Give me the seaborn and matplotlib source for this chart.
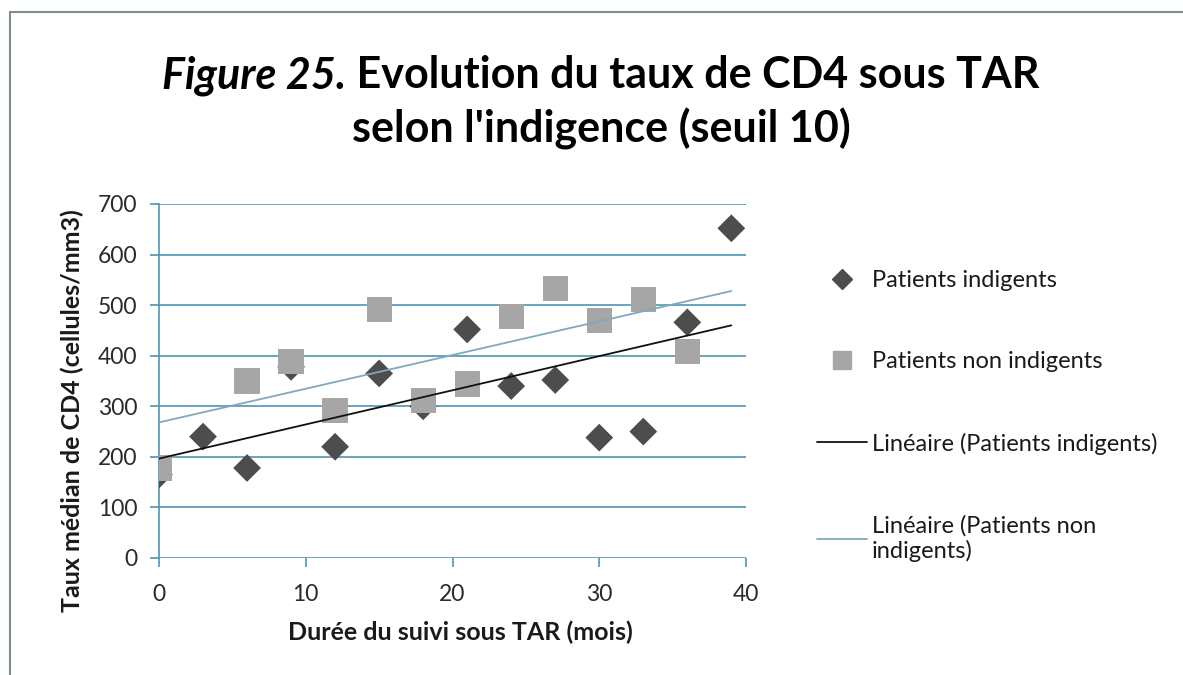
import numpy as np
import pandas as pd
import matplotlib
matplotlib.use("Agg")
import matplotlib.pyplot as plt
from matplotlib.lines import Line2D
import seaborn as sns

# ---- data ----
months_ind = [0, 3, 6, 9, 12, 15, 18, 21, 24, 27, 30, 33, 36, 39]
cd4_ind = [165, 240, 178, 378, 220, 365, 300, 452, 340, 352, 238, 250, 466, 652]
months_non = [0, 6, 9, 12, 15, 18, 21, 24, 27, 30, 33, 36]
cd4_non = [178, 350, 388, 292, 492, 312, 344, 477, 533, 470, 511, 409]
series_labels = ["Patients indigents", "Patients non indigents"]
trend_labels = ["Linéaire (Patients indigents)", "Linéaire (Patients non\nindigents)"]
title_italic = "Figure 25."
title_line1 = " Evolution du taux de CD4 sous TAR"
title_line2 = "selon l'indigence (seuil 10)"
xlabel = "Durée du suivi sous TAR (mois)"
ylabel = "Taux médian de CD4 (cellules/mm3)"
xticks = [0, 10, 20, 30, 40]
yticks = [0, 100, 200, 300, 400, 500, 600, 700]

sns.set_theme(style="white")
plt.rcParams['font.family'] = ['Lato', 'DejaVu Sans']

dark = "#4d4d4d"
light = "#a6a6a6"
grid_c = "#4f93b3"
trend_light = "#7fa9be"
txt_c = "#1a1a1a"

fig = plt.figure(figsize=(11.83, 6.75), dpi=100)
ax = fig.add_axes([159/1183, 1-558/675, (746-159)/1183, (558-204)/675])

df = pd.concat([
    pd.DataFrame({"x": months_ind, "y": cd4_ind, "s": series_labels[0]}),
    pd.DataFrame({"x": months_non, "y": cd4_non, "s": series_labels[1]}),
])

# trend lines (least squares, like Excel linear trendline)
xmax = max(max(months_ind), max(months_non))
xs = np.array([0, xmax])
b1 = np.polyfit(months_ind, cd4_ind, 1)
b2 = np.polyfit(months_non, cd4_non, 1)

sns.scatterplot(data=df[df.s == series_labels[0]], x="x", y="y", marker="D", s=200,
                color=dark, edgecolor="none", ax=ax, zorder=3, legend=False)
sns.scatterplot(data=df[df.s == series_labels[1]], x="x", y="y", marker="s", s=330,
                color=light, edgecolor="none", ax=ax, zorder=4, legend=False)
sns.lineplot(x=xs, y=np.polyval(b1, xs), color="#111111", lw=1.3, ax=ax, zorder=5)
sns.lineplot(x=xs, y=np.polyval(b2, xs), color=trend_light, lw=1.3, ax=ax, zorder=5)

ax.set_xlim(0, 40)
ax.set_ylim(0, 700)
ax.set_xticks(xticks)
ax.set_yticks(yticks)
ax.set_xticklabels([str(v) for v in xticks])
ax.set_yticklabels([str(v) for v in yticks])
for y in yticks:
    ax.axhline(y, color=grid_c, lw=1.2, zorder=1)
for side in ["top", "right", "bottom"]:
    ax.spines[side].set_visible(False)
ax.spines["left"].set_color(grid_c)
ax.spines["left"].set_linewidth(1.2)
ax.tick_params(axis="both", which="major", length=6.5, width=1.2, color=grid_c,
               labelsize=16.5, labelcolor="#2a2a2a", direction="out")
ax.tick_params(axis="x", bottom=True, pad=12.5)
ax.tick_params(axis="y", left=True, pad=9)
ax.set_xlabel(xlabel, fontsize=18, fontweight="bold", color=txt_c)
ax.set_ylabel(ylabel, fontsize=18, fontweight="bold", color=txt_c)
ax.xaxis.set_label_coords(0.513, -0.178)
ax.yaxis.set_label_coords(-0.127, 0.415)

# legend
handles = [
    Line2D([], [], marker="D", color=dark, ls="none", markersize=10),
    Line2D([], [], marker="s", color=light, ls="none", markersize=13),
    Line2D([], [], color="#111111", lw=1.3),
    Line2D([], [], color=trend_light, lw=1.3),
]
leg = fig.legend(handles, series_labels + trend_labels, loc="upper left",
                 bbox_to_anchor=(796/1183, 1-249/675), frameon=False, fontsize=17,
                 handlelength=2.1, handletextpad=0.2, labelspacing=2.55,
                 labelcolor=txt_c)

# title with italic part
fig.canvas.draw()
r = fig.canvas.get_renderer()
t1 = fig.text(0, 0, title_italic, fontsize=31, fontweight="bold", style="italic", color="black")
t2 = fig.text(0, 0, title_line1, fontsize=31, fontweight="bold", color="black")
w1 = t1.get_window_extent(r).width
w2 = t2.get_window_extent(r).width
cx = 601
y1 = 1 - 88/675
x0 = cx - (w1 + w2)/2
t1.set_position((x0/1183, y1))
t2.set_position(((x0 + w1)/1183, y1))
fig.text(cx/1183, 1 - 143/675, title_line2, fontsize=31, fontweight="bold",
         color="black", ha="center")

# outer border lines
fig.add_artist(Line2D([10/1183, 10/1183], [0, 1-12/675], color="#7f8c93", lw=1.5, transform=fig.transFigure))
fig.add_artist(Line2D([10/1183, 1], [1-12/675, 1-12/675], color="#7f8c93", lw=1.5, transform=fig.transFigure))

fig.savefig("out.png", dpi=100, facecolor="white")
